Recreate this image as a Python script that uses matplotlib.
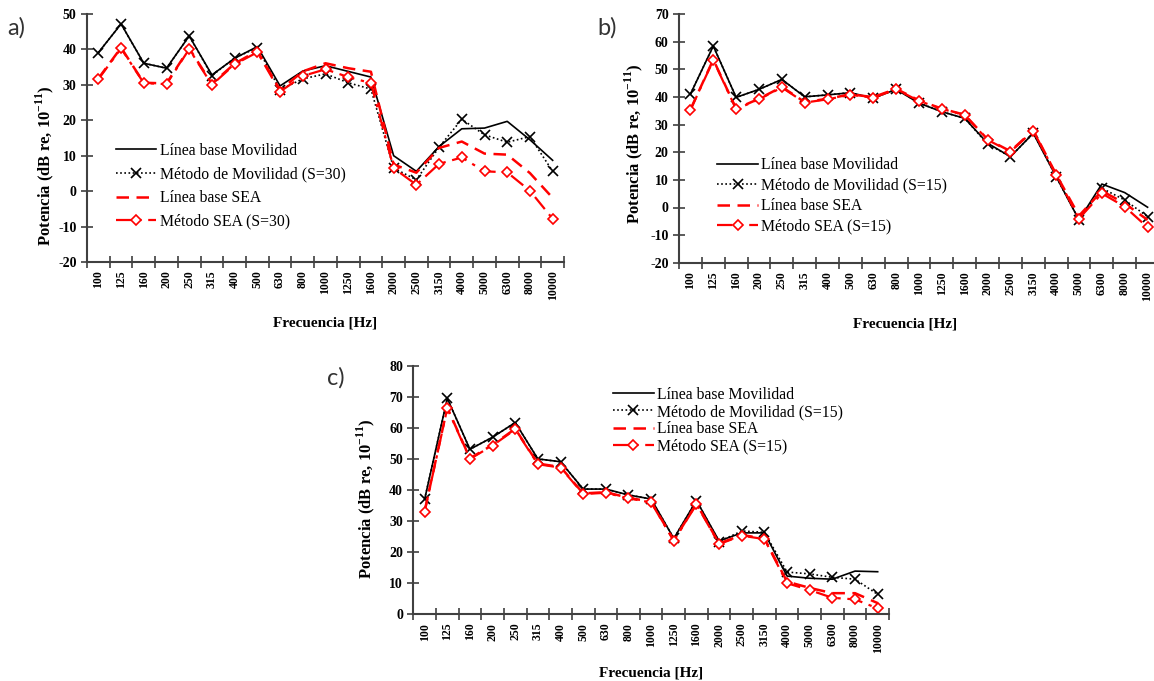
import matplotlib.pyplot as plt
import numpy as np

# Bandas de tercio de octava
freqs = ['100', '125', '160', '200', '250', '315', '400', '500', '630', '800', '1000',
         '1250', '1600', '2000', '2500', '3150', '4000', '5000', '6300', '8000', '10000']

# a) S=30
a_base_mov = [39.1, 47.2, 36.1, 34.7, 43.8, 32.8, 37.5, 40.8, 29.7, 33.9, 35.4,
              33.8, 32.2, 10.0, 5.6, 12.6, 17.6, 17.8, 19.7, 14.5, 8.7]
a_met_mov = [39.1, 47.2, 36.1, 34.7, 43.8, 32.6, 37.6, 40.5, 28.6, 31.7, 33.1,
             30.6, 28.8, 6.5, 3.2, 12.4, 20.3, 15.9, 13.8, 15.4, 5.6]
a_base_sea = [31.8, 40.5, 30.6, 30.4, 40.3, 30.3, 36.0, 39.6, 28.5, 33.8, 36.1,
              34.7, 33.7, 7.5, 5.2, 12.2, 14.0, 10.6, 10.3, 5.1, -1.9]
a_met_sea = [31.6, 40.3, 30.5, 30.2, 40.1, 30.0, 35.8, 39.2, 28.1, 32.5, 34.4,
             32.2, 30.5, 6.5, 1.8, 7.7, 9.5, 5.6, 5.3, 0.1, -7.8]

# b) S=15
b_base_mov = [41.1, 58.5, 39.9, 42.8, 46.4, 40.1, 40.8, 41.6, 39.6, 42.8, 37.8,
              34.7, 32.3, 23.3, 18.4, 26.9, 11.2, -4.5, 8.5, 5.4, 0.1]
b_met_mov = [41.1, 58.5, 39.9, 42.8, 46.4, 40.1, 40.8, 41.6, 39.6, 42.8, 37.9,
             34.7, 32.3, 23.0, 18.4, 26.9, 11.2, -4.5, 7.0, 2.7, -3.3]
b_base_sea = [35.5, 53.6, 35.8, 39.4, 43.7, 38.2, 39.4, 41.0, 40.0, 43.0, 38.8,
              35.8, 33.6, 24.7, 20.4, 28.0, 12.0, -3.0, 6.0, 1.5, -4.5]
b_met_sea = [35.3, 53.4, 35.6, 39.2, 43.5, 38.0, 39.2, 40.8, 39.8, 42.8, 38.6,
             35.7, 33.5, 24.5, 20.2, 27.8, 11.8, -4.0, 5.1, 0.3, -7.2]

# c) S=15
c_base_mov = [37.0, 69.5, 53.1, 57.0, 61.7, 50.0, 49.1, 40.3, 40.3, 38.4, 37.1,
              24.4, 36.6, 23.6, 26.2, 26.2, 12.3, 11.6, 11.3, 13.9, 13.7]
c_met_mov = [37.0, 69.5, 53.1, 57.0, 61.7, 50.0, 49.1, 40.3, 40.3, 38.4, 37.1,
             24.4, 36.6, 23.4, 26.8, 26.4, 13.6, 13.0, 11.9, 11.3, 6.4]
c_base_sea = [33.2, 66.5, 50.2, 54.5, 59.7, 48.5, 47.4, 38.9, 39.3, 37.5, 36.2,
              23.8, 35.6, 22.8, 25.5, 24.4, 10.5, 8.5, 6.8, 6.8, 3.6]
c_met_sea = [33.0, 66.3, 50.0, 54.3, 59.5, 48.3, 47.2, 38.7, 39.1, 37.3, 36.0,
             23.6, 35.4, 22.6, 25.3, 24.2, 10.0, 7.8, 5.3, 4.8, 1.9]

plt.rcParams['font.family'] = ['Liberation Serif', 'DejaVu Serif']
plt.rcParams['axes.unicode_minus'] = False
plt.rcParams['mathtext.fontset'] = 'custom'
plt.rcParams['mathtext.rm'] = 'Liberation Serif'
plt.rcParams['mathtext.bf'] = 'Liberation Serif:bold'
axis_col = '#404040'

W, H = 1154, 681
fig = plt.figure(figsize=(W / 100, H / 100), dpi=100)


def px_axes(x0, y0, x1, y1):
    # caja en píxeles (origen arriba a la izquierda)
    return fig.add_axes([x0 / W, 1 - y1 / H, (x1 - x0) / W, (y1 - y0) / H])


def panel(ax, base_mov, met_mov, base_sea, met_sea, s, ylim, ystep,
          ylab_xy, xlab_xy, leg_xy, leg_space):
    x = np.arange(len(freqs))
    ax.plot(x, base_mov, color='black', lw=1.2, label='Línea base Movilidad')
    ax.plot(x, met_mov, color='black', lw=1.2, ls=(0, (1, 1.5)), marker='x',
            ms=7, mew=1.2, label=f'Método de Movilidad (S={s})')
    ax.plot(x, base_sea, color='red', lw=1.8, ls=(0, (5, 3)),
            label='Línea base SEA')
    ax.plot(x, met_sea, color='red', lw=1.6, ls=(0, (7, 3, 1.5, 3)), marker='D',
            ms=5.5, mew=1.2, mfc='white', label=f'Método SEA (S={s})')

    ax.set_xlim(-0.5, len(freqs) - 0.5)
    ax.set_ylim(*ylim)
    ax.set_yticks(np.arange(ylim[0], ylim[1] + 1, ystep))
    ax.set_xticks(x)
    ax.set_xticklabels(freqs, rotation=90, fontsize=8.5, fontweight='bold')
    ax.set_xticks(np.arange(-0.5, len(freqs), 1), minor=True)
    ax.tick_params(axis='x', which='major', length=0, pad=6)
    ax.tick_params(axis='x', which='minor', direction='inout', length=9,
                   width=1.2, color=axis_col)
    ax.tick_params(axis='y', direction='inout', length=9, width=1.2,
                   color=axis_col, labelsize=10, pad=3)
    for lab in ax.get_yticklabels():
        lab.set_fontweight('bold')
    for sp in ('top', 'right'):
        ax.spines[sp].set_visible(False)
    for sp in ('left', 'bottom'):
        ax.spines[sp].set_color(axis_col)
        ax.spines[sp].set_linewidth(1.5)

    ax.set_ylabel(r'Potencia (dB re, 10$^{\mathbf{-11}}$)', fontsize=12,
                  fontweight='bold')
    ax.yaxis.set_label_coords(*ylab_xy)
    ax.set_xlabel('Frecuencia [Hz]', fontsize=11, fontweight='bold')
    ax.xaxis.set_label_coords(*xlab_xy)

    ax.legend(loc='upper left', bbox_to_anchor=leg_xy, frameon=False,
              fontsize=11.3, handlelength=2.6, handletextpad=0.2,
              borderpad=0, borderaxespad=0, labelspacing=leg_space)


ax_a = px_axes(87, 14, 564, 262)
panel(ax_a, a_base_mov, a_met_mov, a_base_sea, a_met_sea, 30, (-20, 50), 10,
      (-0.065, 0.387), (0.5, -0.22), (0.06, 0.48), 0.48)

ax_b = px_axes(679, 14.3, 1159, 262.7)
panel(ax_b, b_base_mov, b_met_mov, b_base_sea, b_met_sea, 15, (-20, 70), 10,
      (-0.0705, 0.48), (0.47, -0.22), (0.08, 0.425), 0.29)

ax_c = px_axes(413.3, 365.7, 889, 614.3)
panel(ax_c, c_base_mov, c_met_mov, c_base_sea, c_met_sea, 15, (0, 80), 10,
      (-0.0755, 0.464), (0.5, -0.21), (0.42, 0.915), 0.07)

for txt, xp, yp in (('a)', 7, 28), ('b)', 597, 28), ('c)', 327, 378)):
    fig.text(xp / W, 1 - yp / H, txt, fontsize=17, family='Lato',
             color='#333333', va='center', ha='left')

fig.savefig('out.png', dpi=100)
